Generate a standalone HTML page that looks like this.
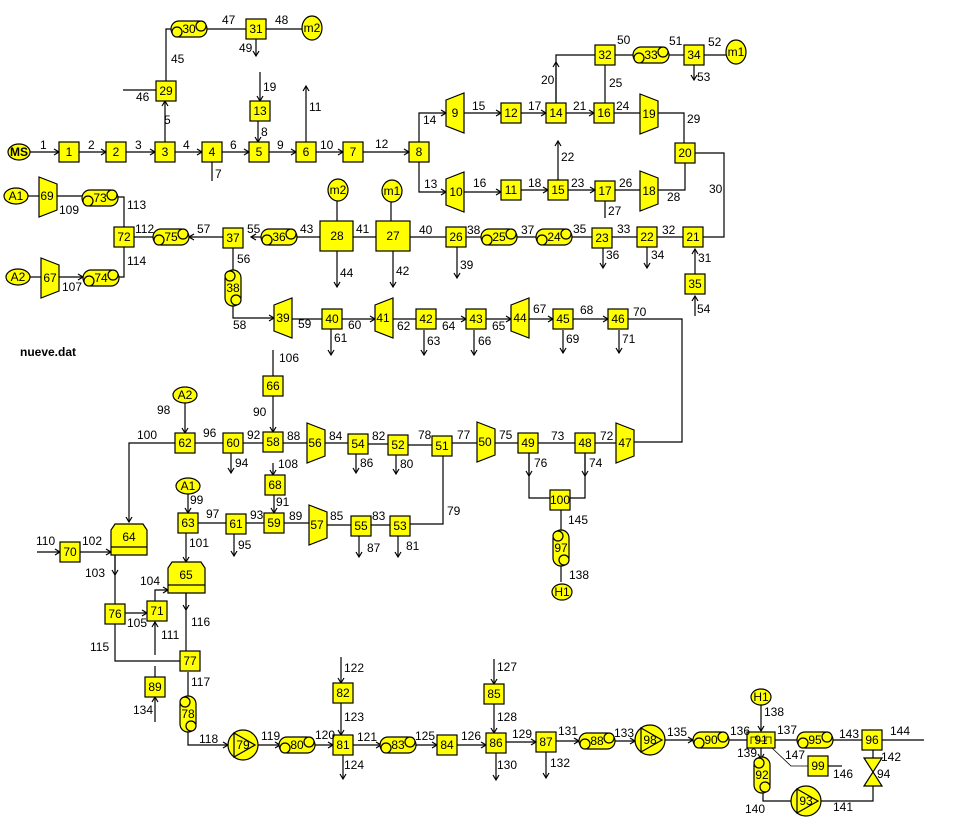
<!DOCTYPE html>
<html><head><meta charset="utf-8"><style>
html,body{margin:0;padding:0;background:#fff;width:962px;height:838px;overflow:hidden}
svg{display:block}
text{font-family:"Liberation Sans",sans-serif;font-size:12px;fill:#000}
.n{text-anchor:middle;dominant-baseline:central;font-size:12px}
.y{fill:#ff0;stroke:#000;stroke-width:1.2}
.l{fill:none;stroke:#000;stroke-width:1.2}
</style></head><body>
<svg width="962" height="838" viewBox="0 0 962 838" xmlns="http://www.w3.org/2000/svg">
<defs>
<marker id="a" markerWidth="8" markerHeight="8" refX="6" refY="4" orient="auto" markerUnits="userSpaceOnUse"><path d="M1,1 L6,4 L1,7" fill="none" stroke="#000" stroke-width="1.2"/></marker>
<g id="hx"><rect x="-18" y="-8" width="36" height="16" rx="8" class="y"/><circle cx="12" cy="-3" r="5" class="y"/><circle cx="-12" cy="3" r="5" class="y"/></g>
<g id="vx"><rect x="-8" y="-18" width="16" height="36" rx="8" class="y"/><circle cx="-3" cy="-12" r="5" class="y"/><circle cx="3" cy="12" r="5" class="y"/></g>
<g id="tr"><path d="M-9,-13 L9,-20 L9,20 L-9,13 Z" class="y"/></g>
<g id="tl"><path d="M-9,-20 L9,-13 L9,13 L-9,20 Z" class="y"/></g>
<g id="pu"><circle r="15" class="y"/><path d="M-9,-12 L12,0 L-9,12 Z" fill="none" stroke="#000" stroke-width="1.2"/></g>
</defs>

<g class="l">
<path d="M30,152 H59" marker-end="url(#a)"/><path d="M79,152 H106" marker-end="url(#a)"/><path d="M126,152 H155" marker-end="url(#a)"/>
<path d="M175,152 H202" marker-end="url(#a)"/><path d="M222,152 H249" marker-end="url(#a)"/><path d="M269,152 H296" marker-end="url(#a)"/>
<path d="M316,152 H343" marker-end="url(#a)"/><path d="M363,152 H409" marker-end="url(#a)"/>
<path d="M165,142 V101" marker-end="url(#a)"/><path d="M123,90 H156"/><path d="M166,81 V29 H171"/>
<path d="M207,29 H246"/><path d="M266,29 H302"/><path d="M256,39 V56" marker-end="url(#a)"/>
<path d="M260,72 V101" marker-end="url(#a)"/><path d="M258,121 V142" marker-end="url(#a)"/>
<path d="M306,142 V86" marker-end="url(#a)"/><path d="M212,162 V181"/>
<path d="M419,142 V113 H446" marker-end="url(#a)"/><path d="M419,162 V192 H446" marker-end="url(#a)"/>
<path d="M464,113 H501" marker-end="url(#a)"/><path d="M521,113 H546" marker-end="url(#a)"/><path d="M566,113 H594" marker-end="url(#a)"/>
<path d="M614,113 H640"/><path d="M658,113 H684 V143"/>
<path d="M464,192 H501" marker-end="url(#a)"/><path d="M521,190 H548" marker-end="url(#a)"/><path d="M568,190 H595" marker-end="url(#a)"/>
<path d="M615,190 H640"/><path d="M685,163 V190 H658"/><path d="M558,180 V141" marker-end="url(#a)"/><path d="M605,201 V218"/>
<path d="M556,103 V55 H595"/><path d="M556,103 V62" marker-end="url(#a)"/><path d="M615,55 H633"/><path d="M669,55 H684"/><path d="M704,55 H726"/>
<path d="M605,65 V103"/><path d="M694,65 V80" marker-end="url(#a)"/>
<path d="M695,153 H724 V237 H703"/>
<path d="M695,274 V249" marker-end="url(#a)"/><path d="M695,316 V296" marker-end="url(#a)"/>
<path d="M683,237 H657"/><path d="M637,237 H612"/><path d="M592,237 H572"/><path d="M536,237 H517"/><path d="M481,237 H466"/><path d="M446,237 H410"/><path d="M376,237 H353"/>
<path d="M320,237 H297"/><path d="M261,237 H251" marker-end="url(#a)"/><path d="M223,237 H189" marker-end="url(#a)"/><path d="M153,237 H134"/>
<path d="M337,200 V221"/><path d="M391,202 V221"/><path d="M337,251 V287" marker-end="url(#a)"/><path d="M393,251 V287" marker-end="url(#a)"/>
<path d="M457,247 V278" marker-end="url(#a)"/><path d="M603,248 V268" marker-end="url(#a)"/><path d="M647,247 V268" marker-end="url(#a)"/>
<path d="M124,227 V197 H118"/><path d="M124,247 V277 H119"/><path d="M57,196 H82"/><path d="M59,277 H83" marker-end="url(#a)"/>
<path d="M28,196 H40"/><path d="M30,277 H41"/>
<path d="M233,248 V270"/><path d="M233,306 V318 H274" marker-end="url(#a)"/>
<path d="M292,319 H322"/><path d="M342,319 H375" marker-end="url(#a)"/><path d="M393,319 H416"/><path d="M436,319 H466" marker-end="url(#a)"/>
<path d="M486,319 H511" marker-end="url(#a)"/><path d="M529,319 H553" marker-end="url(#a)"/><path d="M573,319 H608" marker-end="url(#a)"/>
<path d="M628,319 H682 V442 H634"/>
<path d="M331,329 V355" marker-end="url(#a)"/><path d="M424,330 V355" marker-end="url(#a)"/><path d="M474,330 V355" marker-end="url(#a)"/>
<path d="M563,330 V353" marker-end="url(#a)"/><path d="M619,330 V353" marker-end="url(#a)"/>
<path d="M273,350 V376"/><path d="M273,396 V432" marker-end="url(#a)"/><path d="M185,403 V433" marker-end="url(#a)"/>
<path d="M175,443 H129 V522" marker-end="url(#a)"/><path d="M195,443 H223"/><path d="M243,443 H263"/><path d="M283,443 H307"/>
<path d="M325,443 H348"/><path d="M368,444 H388"/><path d="M408,445 H432"/><path d="M452,443 H477"/><path d="M495,443 H518"/><path d="M538,443 H575"/><path d="M595,443 H616"/>
<path d="M231,453 V473" marker-end="url(#a)"/><path d="M356,454 V473" marker-end="url(#a)"/><path d="M396,455 V474" marker-end="url(#a)"/>
<path d="M529,453 V498 H550"/><path d="M529,453 V476" marker-end="url(#a)"/><path d="M585,453 V498 H570"/><path d="M585,453 V476" marker-end="url(#a)"/>
<path d="M561,510 V582"/>
<path d="M443,456 V524 H410"/>
<path d="M273,463 V475" marker-end="url(#a)"/><path d="M274,495 V513" marker-end="url(#a)"/>
<path d="M188,494 V513" marker-end="url(#a)"/><path d="M198,523 H226"/><path d="M246,523 H264"/><path d="M284,523 H309"/><path d="M327,525 H351"/><path d="M371,525 H390"/>
<path d="M234,534 V556" marker-end="url(#a)"/><path d="M359,536 V557" marker-end="url(#a)"/><path d="M398,536 V557" marker-end="url(#a)"/>
<path d="M186,533 V562" marker-end="url(#a)"/>
<path d="M37,552 H60" marker-end="url(#a)"/><path d="M80,552 H111" marker-end="url(#a)"/>
<path d="M115,555 V604"/><path d="M115,555 V575" marker-end="url(#a)"/><path d="M125,613 H147" marker-end="url(#a)"/>
<path d="M155,601 V590 H168" marker-end="url(#a)"/><path d="M155,655 V622" marker-end="url(#a)"/>
<path d="M186,593 V651"/><path d="M186,593 V610" marker-end="url(#a)"/><path d="M115,623 V661 H180"/>
<path d="M155,666 V677"/><path d="M155,722 V697" marker-end="url(#a)"/>
<path d="M188,672 V696"/><path d="M188,732 V745 H228" marker-end="url(#a)"/>
<path d="M258,745 H280" marker-end="url(#a)"/><path d="M315,745 H333" marker-end="url(#a)"/><path d="M341,657 V683" marker-end="url(#a)"/><path d="M341,703 V735" marker-end="url(#a)"/>
<path d="M343,755 V779" marker-end="url(#a)"/><path d="M353,745 H381" marker-end="url(#a)"/><path d="M416,745 H437" marker-end="url(#a)"/><path d="M457,745 H486" marker-end="url(#a)"/>
<path d="M494,659 V684" marker-end="url(#a)"/><path d="M494,704 V733" marker-end="url(#a)"/><path d="M496,753 V780" marker-end="url(#a)"/>
<path d="M506,742 H536" marker-end="url(#a)"/><path d="M546,752 V778" marker-end="url(#a)"/><path d="M556,741 H579" marker-end="url(#a)"/><path d="M615,741 H635" marker-end="url(#a)"/>
<path d="M665,740 H693" marker-end="url(#a)"/><path d="M729,740 H747"/>
<path d="M761,705 V731" marker-end="url(#a)"/><path d="M775,740 H797"/><path d="M833,740 H862"/><path d="M882,740 H924"/>
<path d="M761,748 V759" marker-end="url(#a)"/><path d="M763,791 V801 H791"/><path d="M821,801 H873 V786"/><path d="M873,750 V758"/>
<path d="M772,748 L791,766 H808" stroke-width="0.8"/><path d="M828,766 H842"/>
</g>

<ellipse cx="19" cy="152" rx="11" ry="8" class="y"/><text class="n" x="19" y="152" font-weight="bold">MS</text>
<g class="y">
<rect x="59" y="142" width="20" height="20"/><rect x="106" y="142" width="20" height="20"/><rect x="155" y="142" width="20" height="20"/>
<rect x="202" y="142" width="20" height="20"/><rect x="249" y="142" width="20" height="20"/><rect x="296" y="142" width="20" height="20"/>
<rect x="343" y="142" width="20" height="20"/><rect x="409" y="142" width="20" height="20"/>
<rect x="156" y="81" width="20" height="20"/><rect x="246" y="19" width="20" height="20"/><rect x="250" y="101" width="20" height="20"/>
<rect x="501" y="103" width="20" height="20"/><rect x="546" y="103" width="20" height="20"/><rect x="594" y="103" width="20" height="20"/>
<rect x="595" y="45" width="20" height="20"/><rect x="684" y="45" width="20" height="20"/>
<rect x="501" y="180" width="20" height="20"/><rect x="548" y="180" width="20" height="20"/><rect x="595" y="181" width="20" height="20"/>
<rect x="675" y="143" width="20" height="20"/>
<rect x="683" y="227" width="20" height="20"/><rect x="637" y="227" width="20" height="20"/><rect x="592" y="228" width="20" height="20"/>
<rect x="446" y="227" width="20" height="20"/><rect x="376" y="221" width="34" height="30"/><rect x="320" y="221" width="33" height="30"/>
<rect x="223" y="228" width="20" height="20"/><rect x="114" y="227" width="20" height="20"/><rect x="685" y="274" width="20" height="20"/>
<rect x="322" y="309" width="20" height="20"/><rect x="416" y="309" width="20" height="20"/><rect x="466" y="309" width="20" height="20"/>
<rect x="553" y="309" width="20" height="20"/><rect x="608" y="309" width="20" height="20"/>
<rect x="263" y="376" width="20" height="20"/><rect x="175" y="433" width="20" height="20"/><rect x="223" y="433" width="20" height="20"/>
<rect x="263" y="432" width="20" height="20"/><rect x="348" y="434" width="20" height="20"/><rect x="388" y="435" width="20" height="20"/>
<rect x="432" y="436" width="20" height="20"/><rect x="518" y="433" width="20" height="20"/><rect x="575" y="433" width="20" height="20"/>
<rect x="550" y="490" width="20" height="20"/><rect x="265" y="475" width="20" height="20"/><rect x="264" y="513" width="20" height="20"/>
<rect x="178" y="513" width="20" height="20"/><rect x="226" y="514" width="20" height="20"/><rect x="351" y="516" width="20" height="20"/>
<rect x="390" y="516" width="20" height="20"/><rect x="60" y="542" width="20" height="20"/><rect x="105" y="604" width="20" height="20"/>
<rect x="147" y="601" width="20" height="20"/><rect x="180" y="651" width="20" height="20"/><rect x="145" y="677" width="20" height="20"/>
<rect x="333" y="683" width="20" height="20"/><rect x="333" y="735" width="20" height="20"/><rect x="437" y="735" width="20" height="20"/>
<rect x="484" y="684" width="20" height="20"/><rect x="486" y="733" width="20" height="20"/><rect x="536" y="732" width="20" height="20"/>
<rect x="747" y="732" width="28" height="16"/><rect x="862" y="730" width="20" height="20"/><rect x="808" y="756" width="20" height="20"/>
<path d="M115,524 H143 L147,530 V555 H111 V530 Z"/><path d="M172,562 H201 L205,568 V593 H168 V568 Z"/>
<path d="M864,758 H882 L864,786 H882 Z"/>
</g>
<path d="M111,547 H147 M168,585 H205" stroke="#000" stroke-width="1.2"/>
<path d="M751,744 V737 H757 V741 H766 V737 H771 V744" fill="none" stroke="#000" stroke-width="0.8"/>
<ellipse cx="312" cy="28" rx="10" ry="12" class="y"/><ellipse cx="736" cy="52" rx="10" ry="12" class="y"/>
<ellipse cx="338" cy="190" rx="10" ry="11" class="y"/><ellipse cx="392" cy="191" rx="10" ry="11" class="y"/>
<ellipse cx="16" cy="196" rx="12" ry="8" class="y"/><ellipse cx="18" cy="277" rx="12" ry="8" class="y"/>
<ellipse cx="185" cy="395" rx="12" ry="8" class="y"/><ellipse cx="188" cy="486" rx="12" ry="8" class="y"/>
<ellipse cx="562" cy="592" rx="10" ry="8" class="y"/><ellipse cx="761" cy="697" rx="10" ry="8" class="y"/>
<use href="#hx" x="189" y="29"/><use href="#hx" x="651" y="55"/><use href="#hx" x="554" y="237"/><use href="#hx" x="499" y="237"/>
<use href="#hx" x="279" y="237"/><use href="#hx" x="171" y="237"/><use href="#hx" x="100" y="198"/><use href="#hx" x="101" y="278"/>
<use href="#hx" x="297" y="745"/><use href="#hx" x="398" y="745"/><use href="#hx" x="597" y="741"/><use href="#hx" x="711" y="740"/><use href="#hx" x="815" y="740"/>
<use href="#vx" x="233" y="288"/><use href="#vx" x="561" y="548"/><use href="#vx" x="188" y="714"/><use href="#vx" x="762" y="775"/>
<use href="#tr" x="455" y="113"/><use href="#tr" x="455" y="192"/><use href="#tl" x="649" y="114"/><use href="#tl" x="649" y="191"/>
<use href="#tl" x="48" y="197"/><use href="#tl" x="50" y="278"/><use href="#tr" x="283" y="318"/><use href="#tr" x="384" y="318"/><use href="#tr" x="520" y="318"/>
<use href="#tl" x="316" y="443"/><use href="#tl" x="486" y="442"/><use href="#tl" x="625" y="443"/><use href="#tl" x="318" y="525"/>
<use href="#pu" x="243" y="745"/><use href="#pu" x="650" y="740"/><use href="#pu" x="806" y="801"/>

<g>
<text class="n" x="69" y="152">1</text><text class="n" x="116" y="152">2</text><text class="n" x="165" y="152">3</text><text class="n" x="212" y="152">4</text>
<text class="n" x="259" y="152">5</text><text class="n" x="306" y="152">6</text><text class="n" x="353" y="152">7</text><text class="n" x="419" y="152">8</text>
<text class="n" x="455" y="113">9</text><text class="n" x="456" y="192">10</text><text class="n" x="511" y="190">11</text><text class="n" x="511" y="113">12</text>
<text class="n" x="260" y="111">13</text><text class="n" x="556" y="113">14</text><text class="n" x="558" y="190">15</text><text class="n" x="604" y="113">16</text>
<text class="n" x="605" y="191">17</text><text class="n" x="649" y="191">18</text><text class="n" x="649" y="114">19</text><text class="n" x="685" y="153">20</text>
<text class="n" x="693" y="237">21</text><text class="n" x="647" y="237">22</text><text class="n" x="602" y="238">23</text><text class="n" x="554" y="237">24</text>
<text class="n" x="499" y="237">25</text><text class="n" x="456" y="237">26</text><text class="n" x="393" y="236">27</text><text class="n" x="337" y="236">28</text>
<text class="n" x="166" y="91">29</text><text class="n" x="189" y="29">30</text><text class="n" x="256" y="29">31</text><text class="n" x="605" y="55">32</text>
<text class="n" x="651" y="55">33</text><text class="n" x="694" y="55">34</text><text class="n" x="695" y="284">35</text><text class="n" x="279" y="237">36</text>
<text class="n" x="233" y="238">37</text><text class="n" x="233" y="288">38</text><text class="n" x="283" y="318">39</text><text class="n" x="332" y="319">40</text>
<text class="n" x="383" y="318">41</text><text class="n" x="426" y="319">42</text><text class="n" x="476" y="319">43</text><text class="n" x="520" y="318">44</text>
<text class="n" x="563" y="319">45</text><text class="n" x="618" y="319">46</text><text class="n" x="625" y="443">47</text><text class="n" x="585" y="443">48</text>
<text class="n" x="528" y="443">49</text><text class="n" x="485" y="442">50</text><text class="n" x="442" y="446">51</text><text class="n" x="398" y="445">52</text>
<text class="n" x="400" y="526">53</text><text class="n" x="358" y="444">54</text><text class="n" x="361" y="526">55</text><text class="n" x="315" y="443">56</text>
<text class="n" x="317" y="525">57</text><text class="n" x="273" y="442">58</text><text class="n" x="274" y="523">59</text><text class="n" x="233" y="443">60</text>
<text class="n" x="236" y="524">61</text><text class="n" x="185" y="443">62</text><text class="n" x="188" y="523">63</text><text class="n" x="129" y="537">64</text>
<text class="n" x="186" y="575">65</text><text class="n" x="273" y="386">66</text><text class="n" x="50" y="278">67</text><text class="n" x="275" y="485">68</text>
<text class="n" x="47" y="196">69</text><text class="n" x="70" y="552">70</text><text class="n" x="157" y="611">71</text><text class="n" x="124" y="237">72</text>
<text class="n" x="100" y="198">73</text><text class="n" x="101" y="278">74</text><text class="n" x="171" y="237">75</text><text class="n" x="115" y="614">76</text>
<text class="n" x="190" y="661">77</text><text class="n" x="188" y="714">78</text><text class="n" x="243" y="745">79</text><text class="n" x="297" y="745">80</text>
<text class="n" x="343" y="745">81</text><text class="n" x="343" y="693">82</text><text class="n" x="398" y="745">83</text><text class="n" x="447" y="745">84</text>
<text class="n" x="494" y="694">85</text><text class="n" x="496" y="743">86</text><text class="n" x="546" y="742">87</text><text class="n" x="597" y="741">88</text>
<text class="n" x="155" y="687">89</text><text class="n" x="711" y="740">90</text><text class="n" x="761" y="740">91</text><text class="n" x="762" y="775">92</text>
<text class="n" x="806" y="801">93</text><text class="n" x="872" y="740">96</text><text class="n" x="650" y="740">98</text><text class="n" x="818" y="766">99</text>
<text class="n" x="815" y="740">95</text><text class="n" x="560" y="500">100</text><text class="n" x="561" y="548">97</text>
<text class="n" x="312" y="28">m2</text><text class="n" x="736" y="52">m1</text><text class="n" x="338" y="190">m2</text><text class="n" x="392" y="191">m1</text>
<text class="n" x="16" y="196">A1</text><text class="n" x="18" y="277">A2</text><text class="n" x="185" y="395">A2</text><text class="n" x="188" y="486">A1</text>
<text class="n" x="562" y="592">H1</text><text class="n" x="761" y="697">H1</text>
</g>

<g>
<text x="40" y="149">1</text><text x="88" y="149">2</text><text x="135" y="149">3</text><text x="183" y="149">4</text><text x="164" y="124">5</text>
<text x="230" y="149">6</text><text x="215" y="178">7</text><text x="261" y="136">8</text><text x="277" y="149">9</text><text x="320" y="149">10</text>
<text x="309" y="111">11</text><text x="375" y="148">12</text><text x="424" y="188">13</text><text x="423" y="124">14</text><text x="472" y="110">15</text>
<text x="473" y="187">16</text><text x="528" y="110">17</text><text x="528" y="187">18</text><text x="263" y="91">19</text><text x="541" y="84">20</text>
<text x="573" y="110">21</text><text x="561" y="161">22</text><text x="571" y="187">23</text><text x="616" y="110">24</text><text x="609" y="87">25</text>
<text x="619" y="187">26</text><text x="608" y="215">27</text><text x="667" y="201">28</text><text x="687" y="123">29</text><text x="709" y="193">30</text>
<text x="698" y="262">31</text><text x="662" y="234">32</text><text x="617" y="233">33</text><text x="651" y="259">34</text><text x="573" y="233">35</text>
<text x="606" y="259">36</text><text x="521" y="234">37</text><text x="467" y="234">38</text><text x="460" y="269">39</text><text x="419" y="234">40</text>
<text x="356" y="233">41</text><text x="396" y="275">42</text><text x="300" y="233">43</text><text x="340" y="277">44</text><text x="171" y="63">45</text>
<text x="136" y="101">46</text><text x="222" y="24">47</text><text x="275" y="24">48</text><text x="239" y="52">49</text><text x="617" y="44">50</text>
<text x="669" y="45">51</text><text x="708" y="46">52</text><text x="697" y="81">53</text><text x="697" y="313">54</text><text x="247" y="233">55</text>
<text x="237" y="263">56</text><text x="197" y="233">57</text><text x="233" y="329">58</text><text x="298" y="328">59</text><text x="348" y="329">60</text>
<text x="334" y="342">61</text><text x="397" y="330">62</text><text x="427" y="345">63</text><text x="442" y="330">64</text><text x="492" y="330">65</text>
<text x="478" y="345">66</text><text x="533" y="313">67</text><text x="580" y="314">68</text><text x="566" y="343">69</text><text x="633" y="316">70</text>
<text x="622" y="343">71</text><text x="600" y="440">72</text><text x="551" y="440">73</text><text x="589" y="467">74</text><text x="499" y="439">75</text>
<text x="534" y="467">76</text><text x="457" y="439">77</text><text x="418" y="439">78</text><text x="447" y="515">79</text><text x="400" y="468">80</text>
<text x="406" y="550">81</text><text x="372" y="440">82</text><text x="372" y="520">83</text><text x="329" y="440">84</text><text x="330" y="520">85</text>
<text x="360" y="467">86</text><text x="367" y="552">87</text><text x="287" y="440">88</text><text x="289" y="520">89</text><text x="253" y="416">90</text>
<text x="276" y="506">91</text><text x="247" y="439">92</text><text x="250" y="519">93</text><text x="235" y="467">94</text><text x="238" y="549">95</text>
<text x="203" y="437">96</text><text x="206" y="518">97</text><text x="157" y="414">98</text><text x="190" y="504">99</text><text x="137" y="439">100</text>
<text x="189" y="547">101</text><text x="82" y="545">102</text><text x="85" y="577">103</text><text x="140" y="585">104</text><text x="127" y="627">105</text>
<text x="279" y="362">106</text><text x="62" y="291">107</text><text x="278" y="468">108</text><text x="59" y="214">109</text><text x="36" y="545">110</text>
<text x="161" y="639">111</text><text x="135" y="233">112</text><text x="127" y="209">113</text><text x="127" y="265">114</text><text x="90" y="651">115</text>
<text x="191" y="626">116</text><text x="191" y="686">117</text><text x="199" y="743">118</text><text x="261" y="740">119</text><text x="315" y="739">120</text>
<text x="357" y="741">121</text><text x="344" y="672">122</text><text x="344" y="721">123</text><text x="344" y="769">124</text><text x="415" y="740">125</text>
<text x="461" y="740">126</text><text x="497" y="671">127</text><text x="497" y="721">128</text><text x="512" y="738">129</text><text x="497" y="769">130</text>
<text x="558" y="735">131</text><text x="550" y="767">132</text><text x="614" y="737">133</text><text x="133" y="714">134</text><text x="667" y="736">135</text>
<text x="730" y="735">136</text><text x="777" y="734">137</text><text x="764" y="716">138</text><text x="569" y="579">138</text><text x="737" y="757">139</text>
<text x="745" y="813">140</text><text x="833" y="811">141</text><text x="881" y="761">142</text><text x="839" y="738">143</text><text x="890" y="735">144</text>
<text x="568" y="524">145</text><text x="833" y="778">146</text><text x="785" y="759">147</text><text x="877" y="778">94</text>
<text x="20" y="356" font-weight="bold" font-size="13">nueve.dat</text>
</g>
</svg>
</body></html>
